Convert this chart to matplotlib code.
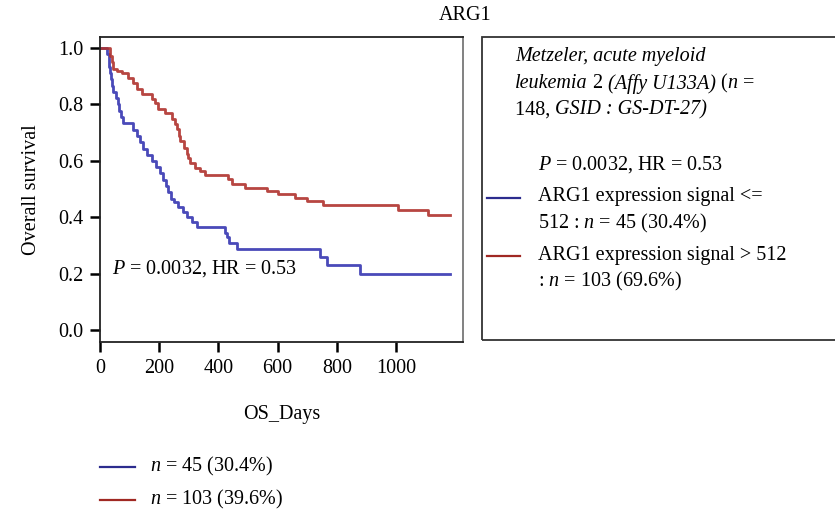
import matplotlib
matplotlib.use("Agg")
import matplotlib.pyplot as plt
from matplotlib.lines import Line2D
from matplotlib.patches import Rectangle

plt.rcParams['font.family'] = ['Liberation Serif', 'DejaVu Serif']
plt.rcParams['mathtext.fontset'] = 'custom'
plt.rcParams['mathtext.rm'] = 'Liberation Serif'
plt.rcParams['mathtext.it'] = 'Liberation Serif:italic'

# Kaplan-Meier steps, ARG1 low expression (n = 45)
low_days = [0, 24, 30, 34, 37, 41, 44, 54, 61, 64, 71, 78, 111, 125, 135, 145,
            159, 176, 189, 203, 213, 223, 230, 240, 250, 262, 280, 294, 311, 328,
            422, 429, 436, 463, 743, 767, 878, 1182]
low_surv = [1.0, 0.978, 0.933, 0.911, 0.889, 0.867, 0.844, 0.822, 0.80, 0.778,
            0.756, 0.733, 0.711, 0.689, 0.667, 0.644, 0.622, 0.60, 0.578, 0.556,
            0.533, 0.511, 0.489, 0.467, 0.456, 0.436, 0.418, 0.40, 0.383, 0.365,
            0.345, 0.33, 0.31, 0.289, 0.259, 0.23, 0.20, 0.20]

# ARG1 high expression (n = 103)
high_days = [0, 34, 40, 45, 57, 74, 95, 111, 125, 142, 175, 186, 196, 220, 243,
             253, 260, 266, 270, 283, 294, 297, 304, 321, 338, 355, 433, 446, 490,
             564, 601, 658, 699, 753, 1006, 1107, 1182]
high_surv = [1.0, 0.97, 0.95, 0.926, 0.919, 0.912, 0.894, 0.876, 0.855, 0.837,
             0.82, 0.806, 0.784, 0.77, 0.749, 0.73, 0.714, 0.69, 0.671, 0.647,
             0.625, 0.612, 0.594, 0.576, 0.565, 0.551, 0.537, 0.519, 0.505, 0.495,
             0.484, 0.47, 0.457, 0.445, 0.428, 0.41, 0.41]

stat_text = "$P$ = 0.0032, HR = 0.53"
low_color = '#3636b2'
high_color = '#b0322d'
fs = 14.5

fig = plt.figure(figsize=(8.35, 5.11), dpi=100)
W, H = 835.0, 511.0
ax = fig.add_axes([100 / W, 1 - 342 / H, 363 / W, 305 / H])
renderer = fig.canvas.get_renderer()


def mixed_line(x, y, parts):
    # draw a line of text made of upright / italic pieces, left to right
    for s, st in parts:
        t = fig.text(x / W, 1 - y / H, s, fontsize=fs, style=st, va='center')
        x += t.get_window_extent(renderer).width


ax.step(low_days, low_surv, where='post', color=low_color, lw=2.0, alpha=0.9)
ax.step(high_days, high_surv, where='post', color=high_color, lw=2.0, alpha=0.9)

ax.set_xlim(0, 1226)
ax.set_ylim(-0.041, 1.039)
ax.set_xticks([0, 200, 400, 600, 800, 1000])
ax.set_yticks([0.0, 0.2, 0.4, 0.6, 0.8, 1.0])
ax.set_yticklabels(['0.0', '0.2', '0.4', '0.6', '0.8', '1.0'])
ax.tick_params(labelsize=fs, length=7, width=1.8, pad=5, direction='out',
               top=False, right=False)
for side in ['left', 'bottom', 'top']:
    ax.spines[side].set_color('#222222')
    ax.spines[side].set_linewidth(1.3)
ax.spines['right'].set_color('#777777')
ax.spines['right'].set_linewidth(1.3)

ax.set_xlabel("OS_Days", fontsize=fs, labelpad=20)
ax.set_ylabel("Overall survival", fontsize=fs, labelpad=12)
ax.text(40, 0.22, stat_text, fontsize=fs, va='center', ha='left')

fig.text(465 / W, 1 - 15 / H, "ARG1", fontsize=fs, ha='center', va='center')

# boxed legend on the right
fig.add_artist(Rectangle((482 / W, 1 - 340 / H), 360 / W, 303 / H,
                         transform=fig.transFigure, fill=False,
                         edgecolor='#333333', lw=1.3, clip_on=False))
mixed_line(515, 57, [("Metzeler, acute myeloid", 'italic')])
mixed_line(515, 84, [("leukemia", 'italic'), (" 2 ", 'normal'),
                     ("(Affy U133A)", 'italic'), (" (", 'normal'),
                     ("n", 'italic'), (" =", 'normal')])
mixed_line(515, 110, [("148, ", 'normal'), ("GSID : GS-DT-27)", 'italic')])
fig.text(538 / W, 1 - 165 / H, stat_text, fontsize=fs, va='center')
fig.add_artist(Line2D([487 / W, 520 / W], [1 - 198 / H, 1 - 198 / H],
                      transform=fig.transFigure, color='#2c2c8e', lw=1.6))
fig.text(538 / W, 1 - 197 / H, "ARG1 expression signal <=", fontsize=fs, va='center')
fig.text(538 / W, 1 - 223 / H, "512 : $n$ = 45 (30.4%)", fontsize=fs, va='center')
fig.add_artist(Line2D([487 / W, 520 / W], [1 - 256 / H, 1 - 256 / H],
                      transform=fig.transFigure, color='#a02823', lw=1.6))
fig.text(538 / W, 1 - 255 / H, "ARG1 expression signal > 512", fontsize=fs, va='center')
fig.text(538 / W, 1 - 281 / H, ": $n$ = 103 (69.6%)", fontsize=fs, va='center')

# legend under the plot
for y, color, label in [(467, '#2c2c8e', "$n$ = 45 (30.4%)"),
                        (500, '#a02823', "$n$ = 103 (39.6%)")]:
    fig.add_artist(Line2D([100 / W, 135 / W], [1 - y / H, 1 - y / H],
                          transform=fig.transFigure, color=color, lw=1.6))
    fig.text(150 / W, 1 - (y - 1) / H, label, fontsize=fs, va='center')

fig.savefig("out.png", dpi=100)
